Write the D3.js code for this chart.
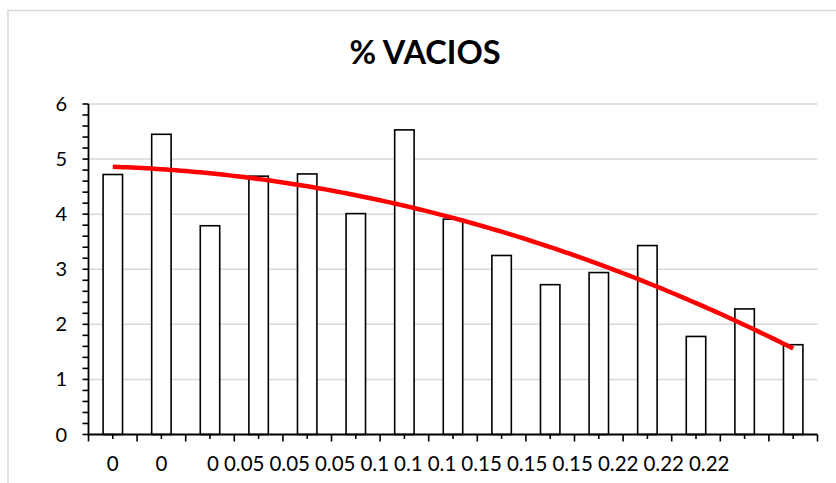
<!DOCTYPE html>
<html>
<head>
<meta charset="utf-8">
<script src="https://cdn.jsdelivr.net/npm/d3@7"></script>
<style>
  html, body { margin: 0; padding: 0; background: #ffffff; }
  svg { display: block; font-family: Lato, "Open Sans", sans-serif; }
</style>
</head>
<body>
<svg id="chart" width="836" height="483"></svg>
<script>
// Sample void content (%) by additive dosage
const dosageLabels = ["0", "0", "0", "0.05", "0.05", "0.05", "0.1", "0.1", "0.1",
                      "0.15", "0.15", "0.15", "0.22", "0.22", "0.22"];
const voidPercent = [4.72, 5.45, 3.79, 4.69, 4.73, 4.01, 5.53, 3.91,
                     3.25, 2.72, 2.94, 3.43, 1.78, 2.28, 1.63];
const yTickValues = [0, 1, 2, 3, 4, 5, 6];
const chartTitle = "% VACIOS";

const svg = d3.select("#chart");
const W = 836, H = 483;
const plot = { left: 88.5, right: 817.5, top: 104, bottom: 434.5 };

// Outer frame of the chart area
svg.append("rect")
  .attr("x", 8).attr("y", 10.5)
  .attr("width", W + 50).attr("height", H + 50)
  .attr("fill", "#ffffff")
  .attr("stroke", "#d9d9d9").attr("stroke-width", 1.5);

const idx = d3.range(voidPercent.length);
const x = d3.scaleBand()
  .domain(idx)
  .range([plot.left, plot.right])
  .paddingInner(0.6)
  .paddingOuter(0.3);
const step = x.step();
const center = i => x(i) + x.bandwidth() / 2;

const y = d3.scaleLinear().domain([0, 6]).range([plot.bottom, plot.top]);

// Horizontal gridlines
svg.append("g")
  .selectAll("line")
  .data(yTickValues.filter(v => v > 0))
  .join("line")
  .attr("x1", plot.left).attr("x2", plot.right)
  .attr("y1", d => y(d)).attr("y2", d => y(d))
  .attr("stroke", "#d9d9d9").attr("stroke-width", 1.5);

// Bars
svg.append("g")
  .selectAll("rect")
  .data(voidPercent)
  .join("rect")
  .attr("x", (d, i) => x(i))
  .attr("y", d => y(d))
  .attr("width", x.bandwidth())
  .attr("height", d => y(0) - y(d))
  .attr("fill", "#ffffff")
  .attr("stroke", "#000000")
  .attr("stroke-width", 1.6);

// Second-order polynomial trend (least squares on category number 1..n)
function quadFit(ys) {
  const n = ys.length;
  const ks = ys.map((_, i) => i + 1);
  const s = p => d3.sum(ks, k => Math.pow(k, p));
  const sy = p => d3.sum(ks, (k, i) => ys[i] * Math.pow(k, p));
  const M = [[n, s(1), s(2)], [s(1), s(2), s(3)], [s(2), s(3), s(4)]];
  const v = [sy(0), sy(1), sy(2)];
  // Gaussian elimination
  for (let c = 0; c < 3; c++) {
    for (let r = c + 1; r < 3; r++) {
      const f = M[r][c] / M[c][c];
      for (let j = c; j < 3; j++) M[r][j] -= f * M[c][j];
      v[r] -= f * v[c];
    }
  }
  const coef = [0, 0, 0];
  for (let r = 2; r >= 0; r--) {
    let acc = v[r];
    for (let j = r + 1; j < 3; j++) acc -= M[r][j] * coef[j];
    coef[r] = acc / M[r][r];
  }
  return k => coef[0] + coef[1] * k + coef[2] * k * k;
}
const trend = quadFit(voidPercent);
const kToX = d3.scaleLinear().domain([1, voidPercent.length])
  .range([center(0), center(voidPercent.length - 1)]);
const trendPts = d3.range(1, voidPercent.length + 0.001, 0.1);
svg.append("path")
  .datum(trendPts)
  .attr("fill", "none")
  .attr("stroke", "#ff0000")
  .attr("stroke-width", 4.5)
  .attr("d", d3.line().x(k => kToX(k)).y(k => y(trend(k))));

// Y axis: line, ticks every 0.2, labels on integers
const yAxis = svg.append("g");
yAxis.append("line")
  .attr("x1", plot.left).attr("x2", plot.left)
  .attr("y1", y(6)).attr("y2", y(0))
  .attr("stroke", "#000").attr("stroke-width", 1.8);
yAxis.selectAll("line.tick")
  .data(d3.range(0, 30.5, 1).map(v => v / 5))
  .join("line")
  .attr("class", "tick")
  .attr("x1", plot.left - 6).attr("x2", plot.left)
  .attr("y1", d => y(d)).attr("y2", d => y(d))
  .attr("stroke", "#000").attr("stroke-width", 1.6);
yAxis.selectAll("text")
  .data(yTickValues)
  .join("text")
  .attr("x", 67)
  .attr("y", d => y(d) + 7)
  .attr("text-anchor", "end")
  .attr("font-size", 20)
  .attr("fill", "#000")
  .text(d => d);

// X axis: line, major ticks at category edges, minor at centers
const xAxis = svg.append("g");
xAxis.append("line")
  .attr("x1", plot.left).attr("x2", plot.right)
  .attr("y1", y(0)).attr("y2", y(0))
  .attr("stroke", "#000").attr("stroke-width", 1.8);
xAxis.selectAll("line.major")
  .data(d3.range(voidPercent.length + 1))
  .join("line")
  .attr("class", "major")
  .attr("x1", i => plot.left + i * step).attr("x2", i => plot.left + i * step)
  .attr("y1", y(0)).attr("y2", y(0) + 7)
  .attr("stroke", "#000").attr("stroke-width", 1.6);
xAxis.selectAll("line.minor")
  .data(idx)
  .join("line")
  .attr("class", "minor")
  .attr("x1", i => center(i)).attr("x2", i => center(i))
  .attr("y1", y(0)).attr("y2", y(0) + 4.5)
  .attr("stroke", "#000").attr("stroke-width", 1.6);

// Category labels: the first three sit under their bars, the rest run on
// one after another with a small gap
const labels = xAxis.selectAll("text")
  .data(dosageLabels)
  .join("text")
  .attr("y", 471)
  .attr("text-anchor", "start")
  .attr("font-size", 20.5)
  .attr("fill", "#000")
  .text(d => d);
const gap = 5;
let prevRight = 0;
labels.each(function (d, i) {
  const w = this.getComputedTextLength();
  let left;
  if (i < 3) left = center(i) - w / 2 + (i === 2 ? 3 : 0);
  else left = prevRight + gap;
  d3.select(this).attr("x", left);
  prevRight = left + w;
});

// Title
svg.append("text")
  .attr("x", 425)
  .attr("y", 64)
  .attr("text-anchor", "middle")
  .attr("font-size", 32.5)
  .attr("font-weight", "bold")
  .attr("fill", "#000")
  .text(chartTitle);
</script>
</body>
</html>
